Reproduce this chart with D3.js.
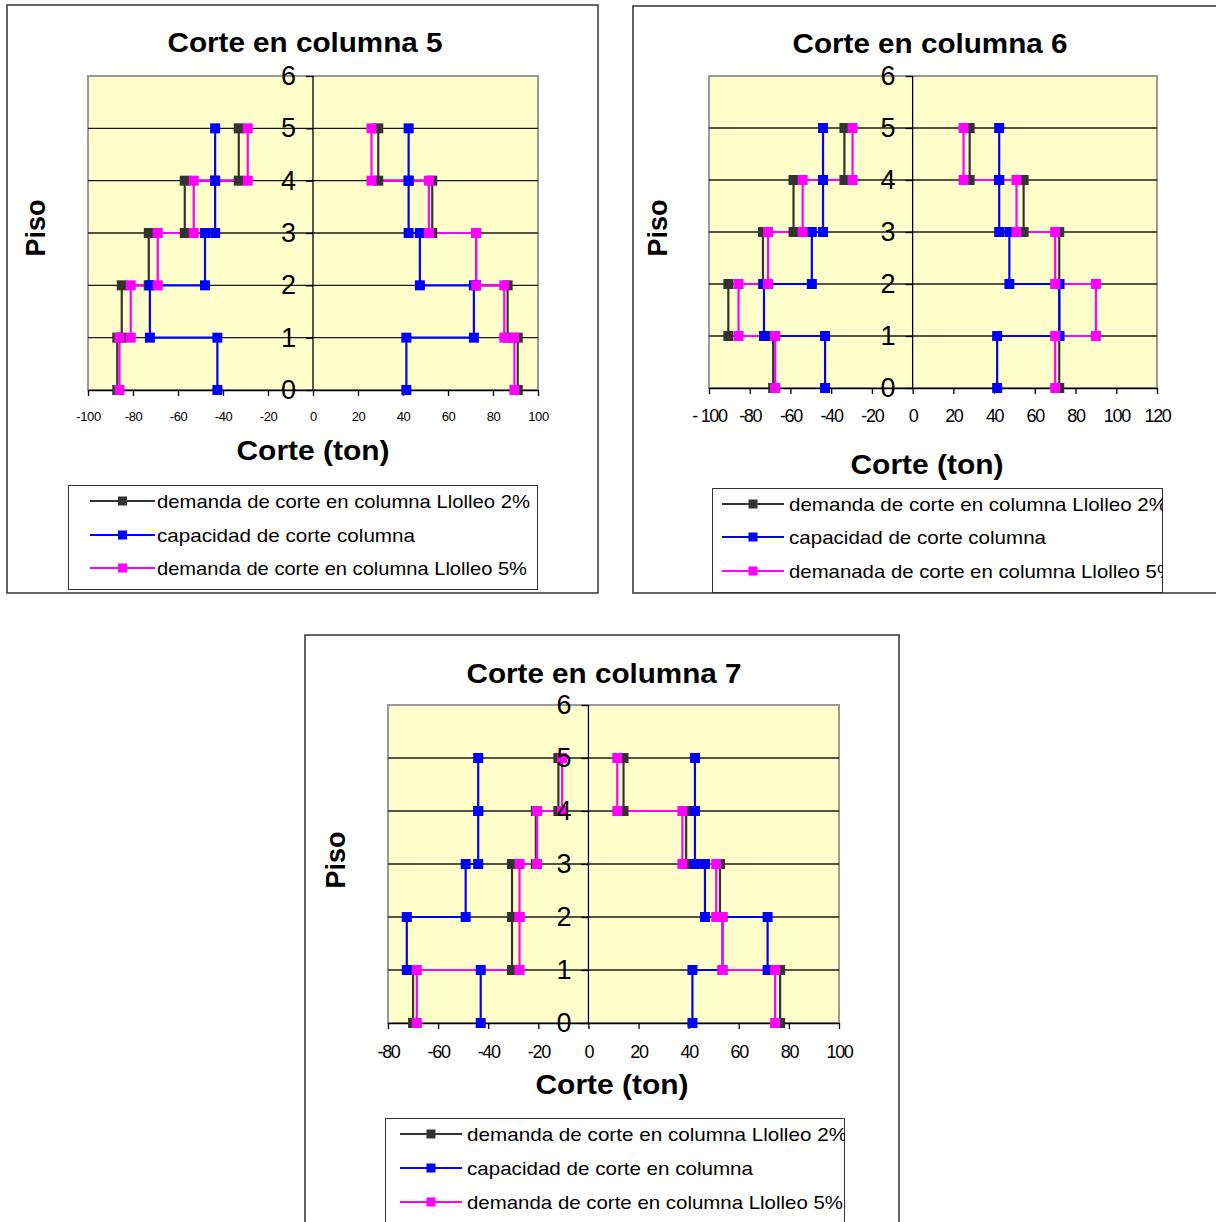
<!DOCTYPE html>
<html>
<head>
<meta charset="utf-8">
<script src="https://cdn.jsdelivr.net/npm/d3@7"></script>
<style>
body { margin: 0; background: #fff; }
text { font-family: "Liberation Sans", Arial, sans-serif; }
</style>
</head>
<body>
<svg width="1216" height="1222"></svg>
<script>
// pisos (eje y) y ticks del eje x
const pisos = [0, 1, 2, 3, 4, 5, 6];
const ticksC5 = [-100, -80, -60, -40, -20, 0, 20, 40, 60, 80, 100];
const ticksC6 = [-100, -80, -60, -40, -20, 0, 20, 40, 60, 80, 100, 120];
const ticksC7 = [-80, -60, -40, -20, 0, 20, 40, 60, 80, 100];

// corte por piso 1..5 (ton), lado negativo y positivo
// columna 5
const c5Dem2Neg = [-87, -85, -73, -57, -33];
const c5Dem2Pos = [91, 86.5, 72.5, 53, 29];
const c5CapNeg = [-42.5, -72.5, -48, -43.5, -43.5];
const c5CapPos = [41.5, 71.5, 47.5, 42.5, 42.5];
const c5Dem5Neg = [-86, -81, -69, -53, -29];
const c5Dem5Pos = [89.5, 85, 72.5, 51.5, 26];

// columna 6
const c6Dem2Neg = [-68.5, -90.5, -73.5, -58.5, -33.5];
const c6Dem2Pos = [72, 72, 72, 54.5, 28];
const c6CapNeg = [-43, -73, -49.5, -44, -44];
const c6CapPos = [41.5, 72, 47.5, 42.5, 42.5];
const c6Dem5Neg = [-67.5, -85.5, -71, -54, -29.5];
const c6Dem5Pos = [70, 90, 70, 51, 25];

// columna 7
const c7Dem2Neg = [-70, -30.5, -30.5, -21, -12];
const c7Dem2Pos = [76.5, 53.5, 52.5, 39, 14];
const c7CapNeg = [-43, -72.5, -49, -44, -44];
const c7CapPos = [41.5, 71.5, 46.5, 42.5, 42.5];
const c7Dem5Neg = [-68.5, -27.5, -27.5, -20.5, -10.5];
const c7Dem5Pos = [74.5, 53.5, 51, 37.5, 11.5];

const leyenda5 = ["demanda de corte en columna Llolleo 2%", "capacidad de corte columna", "demanda de corte en columna Llolleo 5%"];
const leyenda6 = ["demanda de corte en columna Llolleo 2%", "capacidad de corte columna", "demanada de corte en columna Llolleo 5%"];
const leyenda7 = ["demanda de corte en columna Llolleo 2%", "capacidad de corte en columna", "demanda de corte en columna Llolleo 5%"];

const colores = ["#333333", "#0000ff", "#ff00ff"];

const svg = d3.select('svg');

const paneles = [
    {
        titulo: "Corte en columna 5", caja: [7, 5, 591, 588], tituloX: 305,
        plot: {x: 88, y: 76, w: 450, h: 314}, dominio: [-100, 100], ticks: ticksC5,
        tickFont: 13, tickPad: 16, tituloY: 52, pisoX: 35, pisoY: 228, corteX: 313, corteY: 460,
        series: [[c5Dem2Neg, c5Dem2Pos], [c5CapNeg, c5CapPos], [c5Dem5Neg, c5Dem5Pos]],
        leyenda: {x: 68, y: 485, w: 470, h: 105, filas: [501, 535, 568], l0: 90, l1: 155, tx: 157,
            textos: leyenda5, largos: [373, 258, 370]}
    },
    {
        titulo: "Corte en columna 6", caja: [633, 6, 640, 587], tituloX: 930,
        plot: {x: 709, y: 76, w: 448, h: 312}, dominio: [-100, 120], ticks: ticksC6,
        tickFont: 18, tickPad: 15, tituloY: 53, pisoX: 657, pisoY: 228, corteX: 927, corteY: 474,
        series: [[c6Dem2Neg, c6Dem2Pos], [c6CapNeg, c6CapPos], [c6Dem5Neg, c6Dem5Pos]],
        leyenda: {x: 712, y: 488, w: 451, h: 105, filas: [504, 537, 571], l0: 722, l1: 784, tx: 789,
            textos: leyenda6, largos: [378, 257, 386]}
    },
    {
        titulo: "Corte en columna 7", caja: [305, 635, 594, 640], tituloX: 604,
        plot: {x: 388, y: 705, w: 451, h: 318}, dominio: [-80, 100], ticks: ticksC7,
        tickFont: 18, tickPad: 16, tituloY: 683, pisoX: 335, pisoY: 860, corteX: 612, corteY: 1094,
        series: [[c7Dem2Neg, c7Dem2Pos], [c7CapNeg, c7CapPos], [c7Dem5Neg, c7Dem5Pos]],
        leyenda: {x: 385, y: 1118, w: 460, h: 120, filas: [1134, 1168, 1202], l0: 400, l1: 462, tx: 467,
            textos: leyenda7, largos: [380, 286, 376]}
    }
];

// escalones: (V1,0)-(V1,1)-(V2,1)-(V2,2)...
const escalon = v => v.flatMap((d, i) => [[d, i], [d, i + 1]]);

const dibujar = (p, k) => {
    const g = svg.append('g');
    const c = p.caja;

    g.append('rect')
        .attr('x', c[0]).attr('y', c[1]).attr('width', c[2]).attr('height', c[3])
        .attr('fill', '#fff').attr('stroke', '#333').attr('stroke-width', 1.5);

    const xEscala = d3.scaleLinear().domain(p.dominio).range([p.plot.x, p.plot.x + p.plot.w]);
    const yEscala = d3.scaleLinear().domain([0, 6]).range([p.plot.y + p.plot.h, p.plot.y]);

    g.append('rect')
        .attr('x', p.plot.x).attr('y', p.plot.y).attr('width', p.plot.w).attr('height', p.plot.h)
        .attr('fill', '#ffffcc').attr('stroke', '#9a9a9a').attr('stroke-width', 2);

    // lineas de piso
    g.append('g').selectAll('line').data(pisos.slice(1, 6)).join('line')
        .attr('x1', p.plot.x).attr('x2', p.plot.x + p.plot.w)
        .attr('y1', d => yEscala(d)).attr('y2', d => yEscala(d))
        .attr('stroke', '#1a1a1a').attr('stroke-width', 1.3);

    // eje x
    const xAxisG = g.append('g')
        .attr('transform', `translate(0,${p.plot.y + p.plot.h})`)
        .call(d3.axisBottom(xEscala).tickValues(p.ticks).tickSize(6).tickSizeOuter(0)
            .tickPadding(p.tickPad)
            .tickFormat(d => d === -100 && k === 1 ? "- 100" : d));
    xAxisG.select('.domain').attr('stroke', '#000').attr('stroke-width', 1.5);
    xAxisG.selectAll('.tick line').attr('stroke', '#000').attr('stroke-width', 1.3);
    xAxisG.selectAll('text')
        .attr('font-size', p.tickFont).attr('fill', '#000')
        .attr('letter-spacing', p.tickFont > 15 ? -1.3 : -0.4)
        .attr('font-family', '"Liberation Sans", Arial, sans-serif');

    // eje vertical en cero
    g.append('line')
        .attr('x1', xEscala(0)).attr('x2', xEscala(0))
        .attr('y1', yEscala(0)).attr('y2', yEscala(6))
        .attr('stroke', '#000').attr('stroke-width', 1.3);

    // series
    const linea = d3.line().x(d => xEscala(d[0])).y(d => yEscala(d[1]));
    p.series.forEach((s, i) => {
        s.forEach(lado => {
            g.append('path').datum(escalon(lado))
                .attr('d', linea).attr('fill', 'none')
                .attr('stroke', colores[i]).attr('stroke-width', 2.2);
        });
    });
    p.series.forEach((s, i) => {
        s.forEach(lado => {
            g.append('g').selectAll('rect').data(escalon(lado)).join('rect')
                .attr('x', d => xEscala(d[0]) - 5).attr('y', d => yEscala(d[1]) - 5)
                .attr('width', 10).attr('height', 10)
                .attr('fill', colores[i]);
        });
    });

    // eje y (numeros de piso)
    const yAxisG = g.append('g')
        .attr('transform', `translate(${xEscala(0)},0)`)
        .call(d3.axisLeft(yEscala).tickValues(pisos).tickSize(7).tickSizeOuter(0).tickPadding(10)
            .tickFormat(d3.format('d')));
    yAxisG.select('.domain').remove();
    yAxisG.selectAll('.tick line').attr('stroke', '#000').attr('stroke-width', 1.3);
    yAxisG.selectAll('text')
        .attr('font-size', 27).attr('fill', '#000')
        .attr('font-family', '"Liberation Sans", Arial, sans-serif');

    // titulos
    g.append('text')
        .attr('x', p.tituloX)
        .attr('y', p.tituloY)
        .attr('text-anchor', 'middle').attr('font-size', 28).attr('font-weight', 'bold')
        .attr('textLength', 275).attr('lengthAdjust', 'spacingAndGlyphs')
        .text(p.titulo);

    g.append('text')
        .attr('transform', `translate(${p.pisoX + 10},${p.pisoY}) rotate(-90)`)
        .attr('text-anchor', 'middle').attr('font-size', 27).attr('font-weight', 'bold')
        .text("Piso");

    g.append('text')
        .attr('x', p.corteX)
        .attr('y', p.corteY)
        .attr('text-anchor', 'middle').attr('font-size', 27).attr('font-weight', 'bold')
        .attr('textLength', 153).attr('lengthAdjust', 'spacingAndGlyphs')
        .text("Corte (ton)");

    // leyenda
    const L = p.leyenda;
    const clipId = 'clipLey' + k;
    svg.append('clipPath').attr('id', clipId)
        .append('rect').attr('x', L.x).attr('y', L.y).attr('width', L.w).attr('height', L.h);
    const ley = g.append('g').attr('clip-path', `url(#${clipId})`);
    ley.append('rect')
        .attr('x', L.x).attr('y', L.y).attr('width', L.w).attr('height', L.h)
        .attr('fill', '#fff').attr('stroke', '#333').attr('stroke-width', 2);
    L.textos.forEach((t, i) => {
        const fy = L.filas[i];
        ley.append('line')
            .attr('x1', L.l0).attr('x2', L.l1).attr('y1', fy).attr('y2', fy)
            .attr('stroke', colores[i]).attr('stroke-width', 2.2);
        ley.append('rect')
            .attr('x', (L.l0 + L.l1) / 2 - 4.5).attr('y', fy - 4.5)
            .attr('width', 9).attr('height', 9).attr('fill', colores[i]);
        ley.append('text')
            .attr('x', L.tx).attr('y', fy + 7)
            .attr('font-size', 19)
            .attr('textLength', L.largos[i]).attr('lengthAdjust', 'spacingAndGlyphs')
            .text(t);
    });
};

paneles.forEach((p, k) => dibujar(p, k));
</script>
</body>
</html>
